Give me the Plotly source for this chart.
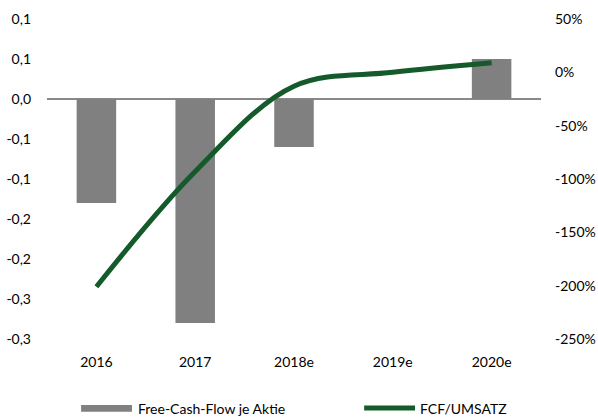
import plotly.graph_objects as go

# data
years = ["2016", "2017", "2018e", "2019e", "2020e"]
fcf_per_share = [-0.13, -0.28, -0.06, 0.0, 0.05]
fcf_to_sales = [-201, -93, -13, 0, 9]  # percent

left_ticks = [0.1, 0.05, 0.0, -0.05, -0.1, -0.15, -0.2, -0.25, -0.3]
left_labels = ["0,1", "0,1", "0,0", "-0,1", "-0,1", "-0,2", "-0,2", "-0,3", "-0,3"]
right_ticks = [50, 0, -50, -100, -150, -200, -250]
right_labels = ["50%", "0%", "-50%", "-100%", "-150%", "-200%", "-250%"]

BAR = "#808080"
LINE = "#145a2b"
FONT = dict(family="Lato, Open Sans, sans-serif", size=14, color="#000000")

fig = go.Figure()
fig.add_bar(x=years, y=fcf_per_share, name="Free-Cash-Flow je Aktie",
            marker=dict(color=BAR, line=dict(width=0)), width=0.4, showlegend=False)
fig.add_scatter(x=years, y=fcf_to_sales, name="FCF/UMSATZ", yaxis="y2",
                mode="lines", line=dict(color=LINE, width=5, shape="spline", smoothing=1),
                showlegend=False)

fig.update_layout(
    width=598, height=418,
    margin=dict(l=47, r=57, t=19, b=79),
    plot_bgcolor="white", paper_bgcolor="white",
    font=FONT,
    xaxis=dict(showgrid=False, showline=False, ticks="", ticklabelstandoff=13,
               automargin=False),
    yaxis=dict(range=[-0.3, 0.1], tickvals=left_ticks, ticktext=left_labels,
               showgrid=False, showline=False, ticks="", zeroline=True,
               zerolinecolor="#898989", zerolinewidth=1.5, ticklabelstandoff=15,
               automargin=False),
    yaxis2=dict(range=[-250, 50], tickvals=right_ticks, ticktext=right_labels,
                overlaying="y", side="right", showgrid=False, showline=False,
                ticks="", zeroline=False, ticklabelstandoff=13, automargin=False),
)

# legend drawn by hand to match the wide swatches of the original
fig.add_shape(type="rect", xref="paper", yref="paper", x0=0.069, x1=0.172,
              y0=-0.227, y1=-0.206, fillcolor=BAR, line=dict(width=0))
fig.add_shape(type="line", xref="paper", yref="paper", x0=0.642, x1=0.745,
              y0=-0.216, y1=-0.216, line=dict(color=LINE, width=5))
fig.add_annotation(text="Free-Cash-Flow je Aktie", xref="paper", yref="paper",
                   x=0.180, y=-0.216, xanchor="left", yanchor="middle", showarrow=False)
fig.add_annotation(text="FCF/UMSATZ", xref="paper", yref="paper",
                   x=0.750, y=-0.216, xanchor="left", yanchor="middle", showarrow=False)

fig.write_html("out.html", config={"displayModeBar": False},
               post_script="document.body.style.margin='0';")
